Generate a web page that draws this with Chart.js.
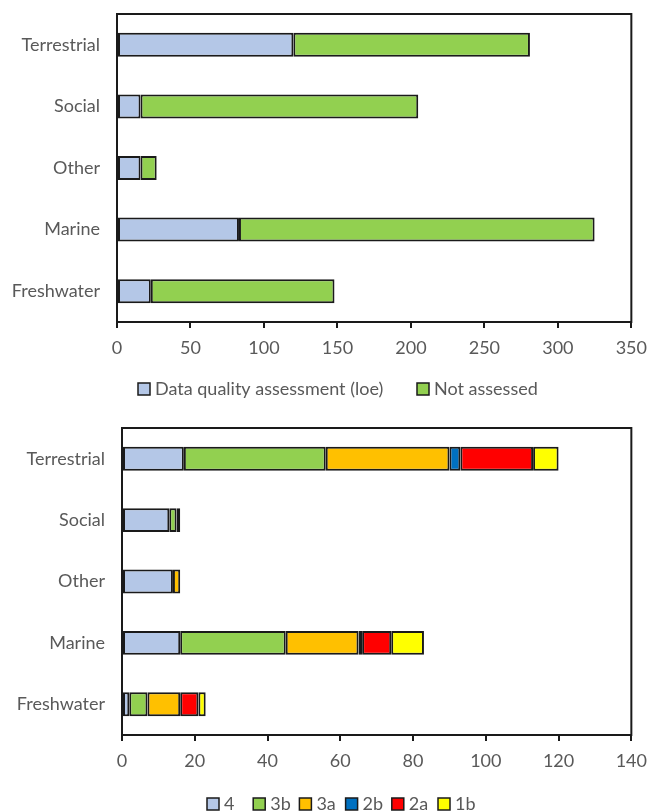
<!DOCTYPE html>
<html>
<head>
<meta charset="utf-8">
<script src="https://cdn.jsdelivr.net/npm/chart.js@4"></script>
<style>
  body { margin: 0; background: #fff; overflow: hidden; }
  .box { position: absolute; left: 0; width: 656px; }
  #top { top: 0; height: 405px; }
  #bottom { top: 405px; height: 406px; }
</style>
</head>
<body>
<div class="box" id="top"><canvas id="graficoAvaliacao"></canvas></div>
<div class="box" id="bottom"><canvas id="graficoQualidade"></canvas></div>
<script>
// categorias (de cima para baixo)
const categorias = ['Terrestrial', 'Social', 'Other', 'Marine', 'Freshwater'];

// gráfico de cima
const avaliado = [120, 16, 16, 83, 23];
const naoAvaliado = [161, 189, 11, 242, 125];
const ticksCima = [0, 50, 100, 150, 200, 250, 300, 350];

// gráfico de baixo (classes de qualidade)
const q4 = [17, 13, 14, 16, 2];
const q3b = [39, 2, 0, 29, 5];
const q3a = [34, 0, 2, 20, 9];
const q2b = [3, 0, 0, 1, 0];
const q2a = [20, 1, 0, 8, 5];
const q1b = [7, 0, 0, 9, 2];
const ticksBaixo = [0, 20, 40, 60, 80, 100, 120, 140];

const fonte = 'Lato, "Open Sans", sans-serif';
const cinza = '#595959';
const linha = '#1a1a1a';

// moldura em volta da área do gráfico
const moldura = {
    id: 'moldura',
    afterDraw(chart) {
        const a = chart.chartArea;
        const c = chart.ctx;
        c.save();
        c.strokeStyle = linha;
        c.lineWidth = 2;
        c.strokeRect(a.left, a.top, a.right - a.left, a.bottom - a.top);
        c.restore();
    }
};

// legenda estilo Excel (caixas com espaçamento fixo)
function legenda(x0, passo, cy) {
    return {
        id: 'legenda',
        afterDraw(chart) {
            const c = chart.ctx;
            c.save();
            c.font = '18px ' + fonte;
            c.textBaseline = 'middle';
            chart.data.datasets.forEach((ds, i) => {
                const x = x0 + i * passo;
                c.fillStyle = ds.backgroundColor;
                c.fillRect(x, cy - 6, 12, 12);
                c.strokeStyle = linha;
                c.lineWidth = 1.5;
                c.strokeRect(x, cy - 6, 12, 12);
                c.fillStyle = cinza;
                c.fillText(ds.label, x + 17, cy);
            });
            c.restore();
        }
    };
}

function opcoes(ticks, larguraY, padding) {
    return {
        indexAxis: 'y',
        responsive: true,
        maintainAspectRatio: false,
        animation: false,
        layout: { padding: padding },
        plugins: {
            legend: { display: false },
            tooltip: { enabled: false }
        },
        scales: {
            x: {
                stacked: true,
                min: ticks[0],
                max: ticks[ticks.length - 1],
                ticks: { stepSize: ticks[1] - ticks[0], color: cinza, font: { family: fonte, size: 18 }, padding: 9 },
                grid: { display: true, drawOnChartArea: false, drawTicks: true, tickLength: 6, color: linha, lineWidth: 2 },
                border: { display: true, color: linha, width: 2 },
                afterFit(s) { s.height = 40; }
            },
            y: {
                stacked: true,
                ticks: { color: cinza, font: { family: fonte, size: 18 }, padding: 17 },
                grid: { display: false, drawTicks: false },
                border: { display: true, color: linha, width: 2 },
                afterFit(s) {
                    s.width = larguraY;
                    s.paddingTop = 0;
                    s.paddingBottom = 0;
                }
            }
        }
    };
}

function serie(rotulo, dados, cor) {
    return {
        label: rotulo,
        data: dados,
        backgroundColor: cor,
        borderColor: linha,
        // sem contorno para segmentos vazios
        borderWidth: (ctx) => (ctx.raw ? 2 : 0),
        borderSkipped: false,
        categoryPercentage: 1,
        barPercentage: 0.39
    };
}

// gráfico: avaliação de qualidade
new Chart(document.getElementById('graficoAvaliacao'), {
    type: 'bar',
    data: {
        labels: categorias,
        datasets: [
            serie('Data quality assessment (loe)', avaliado, '#B4C7E7'),
            serie('Not assessed', naoAvaliado, '#92D050')
        ]
    },
    options: opcoes(ticksCima, 117, { left: 0, right: 22, top: 14, bottom: 43 }),
    plugins: [moldura, legenda(138, 279, 389)]
});

// gráfico: classes de qualidade
new Chart(document.getElementById('graficoQualidade'), {
    type: 'bar',
    data: {
        labels: categorias,
        datasets: [
            serie('4', q4, '#B4C7E7'),
            serie('3b', q3b, '#92D050'),
            serie('3a', q3a, '#FFC000'),
            serie('2b', q2b, '#0070C0'),
            serie('2a', q2a, '#FF0000'),
            serie('1b', q1b, '#FFFF00')
        ]
    },
    options: opcoes(ticksBaixo, 122, { left: 0, right: 17, top: 23, bottom: 36 }),
    plugins: [moldura, legenda(207, 46.2, 399)]
});
</script>
</body>
</html>
